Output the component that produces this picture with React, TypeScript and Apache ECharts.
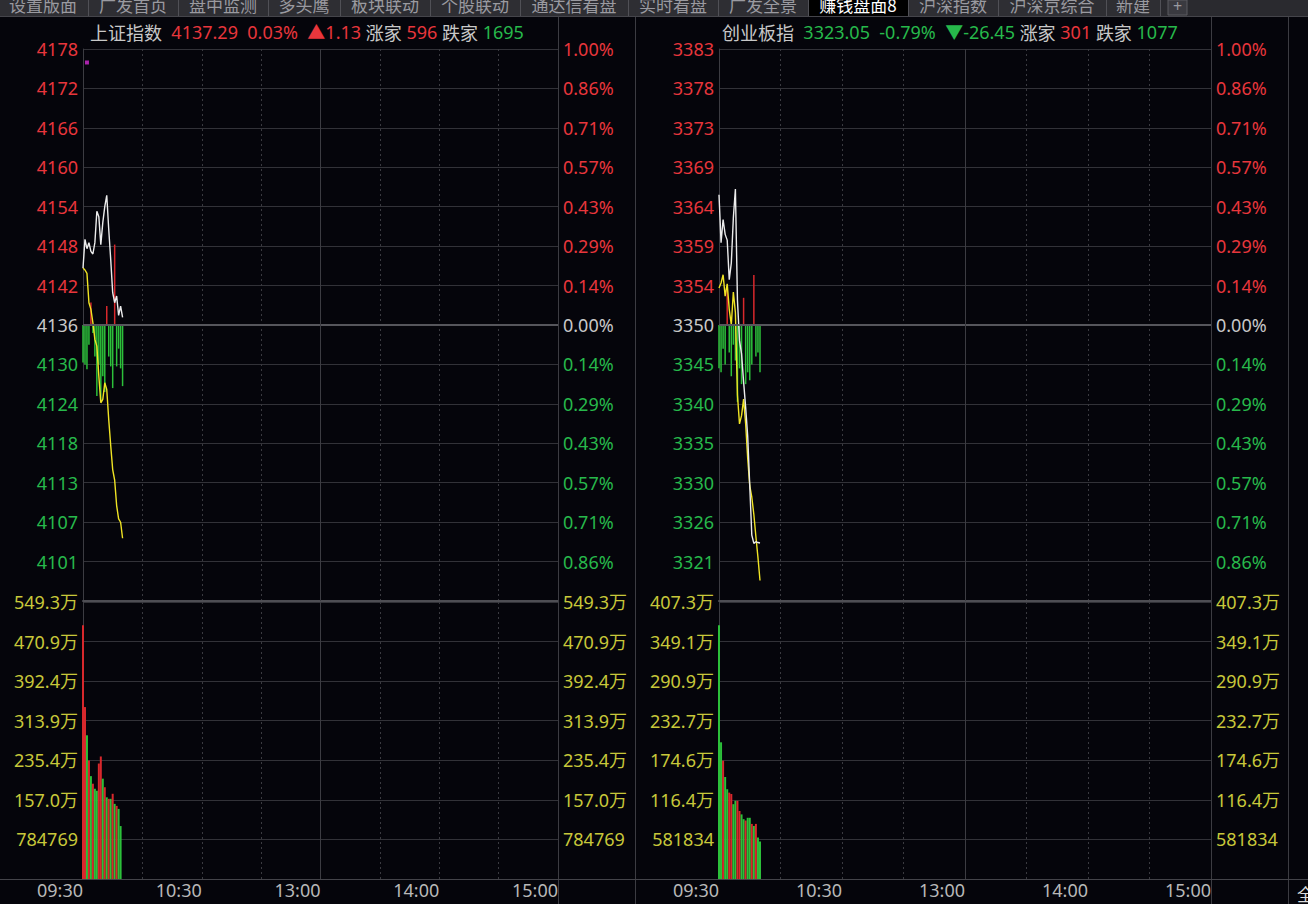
import React, { useEffect, useRef } from 'react';
import * as echarts from 'echarts';

// ---------------- data ----------------
const timeTickMinutes = [0, 60, 120, 180, 240];
const timeTickLabels = ['09:30', '10:30', '13:00', '14:00', '15:00'];

const pctLabels = ['1.00%', '0.86%', '0.71%', '0.57%', '0.43%', '0.29%', '0.14%', '0.00%', '0.14%', '0.29%', '0.43%', '0.57%', '0.71%', '0.86%', '1.00%'];

// 上证指数
const shPrevClose = 4136.16;
const shPriceLabels = ['4095', '4101', '4107', '4113', '4118', '4124', '4130', '4136', '4142', '4148', '4154', '4160', '4166', '4172', '4178'];
const shWhite = [4144.7, 4149.0, 4147.6, 4148.5, 4147.2, 4146.8, 4148.5, 4153.2, 4152.4, 4148.2, 4151.5, 4153.9, 4155.6, 4150.5, 4146.0, 4141.0, 4139.5, 4140.5, 4137.6, 4139.0, 4137.29];
const shYellow = [4144.7, 4144.4, 4143.9, 4139.5, 4138.5, 4136.5, 4134.0, 4133.0, 4128.5, 4124.5, 4125.0, 4127.5, 4126.5, 4122.0, 4118.1, 4114.5, 4112.9, 4109.1, 4107.1, 4106.6, 4104.2];
const shStrength = [-0.95, -1.0, -1.12, -0.5, 0.57, -0.2, -0.8, -1.8, -1.0, -1.9, -1.3, -1.7, 0.48, -0.8, -1.05, -1.6, 2.04, -1.05, -0.6, -1.1, -1.55];
const shVolume = [503, 341, 285, 235, 204, 189, 179, 175, 229, 243, 199, 182, 162, 159, 159, 169, 149, 145, 139, 105];
const shVolDir = [1, 1, -1, 1, -1, 1, -1, -1, 1, 1, -1, 1, -1, 1, -1, 1, -1, 1, -1, -1];
const shVolStep = 78.4769;
const shVolLabels = ['', '784769', '157.0万', '235.4万', '313.9万', '392.4万', '470.9万', '549.3万'];
const shMarker = [[2, 4175.5]];
const shHeader = { name: '上证指数', price: '4137.29', pct: '0.03%', chg: '▲1.13', up: '596', down: '1695' };

// 创业板指
const cyPrevClose = 3349.5;
const cyPriceLabels = ['3316', '3321', '3326', '3330', '3335', '3340', '3345', '3350', '3354', '3359', '3364', '3369', '3373', '3378', '3383'];
const cyWhite = [3365.3, 3359.5, 3362.3, 3360.5, 3359.8, 3355.0, 3357.0, 3362.5, 3366.0, 3352.5, 3347.6, 3346.0, 3342.6, 3339.5, 3336.0, 3330.0, 3324.0, 3323.0, 3323.2, 3323.1, 3323.05];
const cyYellow = [3354.0, 3354.6, 3355.6, 3353.0, 3354.5, 3351.4, 3349.5, 3353.5, 3351.0, 3341.0, 3337.5, 3338.5, 3340.5, 3337.5, 3333.3, 3330.0, 3328.6, 3326.5, 3323.8, 3321.3, 3318.5];
const cyStrength = [-1.1, -1.2, -0.6, -1.0, 0.9, -0.7, -1.3, -0.5, -0.9, -1.95, -1.1, -1.5, 0.69, -1.5, -1.2, -1.4, -1.0, 1.27, -0.8, -0.7, -1.2];
const cyVolume = [373, 201, 174, 150, 132, 127, 125, 110, 115, 115, 100, 95, 88, 86, 90, 90, 81, 78, 81, 61, 55];
const cyVolDir = [-1, -1, 1, -1, -1, 1, 1, -1, -1, 1, 1, -1, -1, 1, -1, -1, 1, -1, 1, -1, -1];
const cyVolStep = 58.1834;
const cyVolLabels = ['', '581834', '116.4万', '174.6万', '232.7万', '290.9万', '349.1万', '407.3万'];
const cyHeader = { name: '创业板指', price: '3323.05', pct: '-0.79%', chg: '▼-26.45', up: '301', down: '1077' };

const tabNames = ['设置版面', '广发首页', '盘中监测', '多头鹰', '板块联动', '个股联动', '通达信看盘', '实时看盘', '广发全景', '赚钱盘面8', '沪深指数', '沪深京综合', '新建'];
const activeTab = 9;

// ---------------- styles ----------------
const FONT = '"Noto Sans", "Noto Sans CJK SC", sans-serif';
const RED = '#e8363c';
const GREEN = '#27b94b';
const GRAY = '#c8c8c8';
const YEL = '#c8c83a';
const BAR_RED = '#d8282c';
const BAR_GREEN = '#2cc03a';
const GRID_LINE = '#323238';
const BORDER = '#3c3c42';
const BG = '#05050b';

function signColor(v: number) {
  return v > 0 ? RED : v < 0 ? GREEN : GRAY;
}

function timeFmt(v: any) {
  const i = timeTickMinutes.indexOf(Math.round(Number(v)));
  return i >= 0 ? timeTickLabels[i] : '';
}

type PanelCfg = {
  left: number;
  width: number;
  prevClose: number;
  priceLabels: string[];
  white: number[];
  yellow: number[];
  strength: number[];
  volume: number[];
  volDir: number[];
  volStep: number;
  volLabels: string[];
  marker?: number[][];
};

function buildPanel(idx: number, cfg: PanelCfg) {
  const g0 = idx * 2;
  const g1 = idx * 2 + 1;
  const yb = idx * 5;
  const grids = [
    { left: cfg.left, width: cfg.width, top: 49, height: 552 },
    { left: cfg.left, width: cfg.width, top: 602, height: 277 },
  ];
  const mkX = (gridIndex: number, showLabels: boolean) => ({
    type: 'value',
    gridIndex,
    min: 0,
    max: 240,
    interval: 30,
    axisLine: { show: true, onZero: false, lineStyle: { color: showLabels ? '#44444a' : '#4e4e54', width: showLabels ? 1 : 2 } },
    axisTick: { show: false },
    axisLabel: {
      show: showLabels,
      formatter: timeFmt,
      align: 'right',
      margin: 2,
      color: '#b8b8b8',
      fontSize: 18,
      fontFamily: FONT,
      showMinLabel: true,
      showMaxLabel: true,
    },
    splitLine: { show: true, lineStyle: { color: '#3a3a40', type: [2, 3], width: 1 } },
  });
  const xAxes = [mkX(g0, false), mkX(g1, true)];
  const labelBase = { fontSize: 18, fontFamily: FONT, margin: 5 };
  const yAxes = [
    {
      type: 'value', gridIndex: g0, position: 'left', min: -7, max: 7, interval: 1,
      axisLine: { show: true, lineStyle: { color: BORDER } }, axisTick: { show: false },
      axisLabel: { ...labelBase, showMinLabel: false, showMaxLabel: true, formatter: (v: any) => cfg.priceLabels[Math.round(Number(v)) + 7], color: (v: any) => signColor(Number(v)) },
      splitLine: { show: true, lineStyle: { color: GRID_LINE } },
    },
    {
      type: 'value', gridIndex: g0, position: 'right', min: -7, max: 7, interval: 1,
      axisLine: { show: true, lineStyle: { color: BORDER } }, axisTick: { show: false },
      axisLabel: { ...labelBase, showMinLabel: false, showMaxLabel: true, formatter: (v: any) => pctLabels[Math.round(Number(v)) + 7], color: (v: any) => signColor(Number(v)) },
      splitLine: { show: false },
    },
    { type: 'value', gridIndex: g0, show: false, min: cfg.prevClose * 0.99, max: cfg.prevClose * 1.01, splitLine: { show: false } },
    {
      type: 'value', gridIndex: g1, position: 'left', min: 0, max: cfg.volStep * 7, interval: cfg.volStep,
      axisLine: { show: true, lineStyle: { color: BORDER } }, axisTick: { show: false },
      axisLabel: { ...labelBase, showMinLabel: false, showMaxLabel: true, formatter: (v: any) => cfg.volLabels[Math.round(Number(v) / cfg.volStep)] || '', color: YEL },
      splitLine: { show: true, lineStyle: { color: GRID_LINE } },
    },
    {
      type: 'value', gridIndex: g1, position: 'right', min: 0, max: cfg.volStep * 7, interval: cfg.volStep,
      axisLine: { show: true, lineStyle: { color: BORDER } }, axisTick: { show: false },
      axisLabel: { ...labelBase, showMinLabel: false, showMaxLabel: true, formatter: (v: any) => cfg.volLabels[Math.round(Number(v) / cfg.volStep)] || '', color: YEL },
      splitLine: { show: false },
    },
  ];
  const series: any[] = [
    {
      type: 'bar', xAxisIndex: g0, yAxisIndex: yb, barWidth: 1.5, z: 1,
      data: cfg.strength.map((v, i) => ({ value: [i, v], itemStyle: { color: v > 0 ? BAR_RED : BAR_GREEN } })),
      markLine: {
        silent: true, symbol: ['none', 'none'], label: { show: false }, animation: false,
        data: [
          { yAxis: 0, lineStyle: { color: '#56565c', width: 2, type: 'solid' } },
          { xAxis: 120, lineStyle: { color: '#3c3c42', width: 1, type: 'solid' } },
        ],
      },
    },
    {
      type: 'line', xAxisIndex: g0, yAxisIndex: yb + 2, z: 3, symbol: 'none', showSymbol: false,
      data: cfg.yellow.map((v, i) => [i, v]), lineStyle: { color: '#f0e424', width: 1.4 },
    },
    {
      type: 'line', xAxisIndex: g0, yAxisIndex: yb + 2, z: 4, symbol: 'none', showSymbol: false,
      data: cfg.white.map((v, i) => [i, v]), lineStyle: { color: '#ececec', width: 1.4 },
    },
    {
      type: 'bar', xAxisIndex: g1, yAxisIndex: yb + 3, barWidth: 2, z: 2,
      data: cfg.volume.map((v, i) => ({ value: [i, v], itemStyle: { color: cfg.volDir[i] > 0 ? BAR_RED : BAR_GREEN } })),
      markLine: {
        silent: true, symbol: ['none', 'none'], label: { show: false }, animation: false,
        data: [{ xAxis: 120, lineStyle: { color: '#3c3c42', width: 1, type: 'solid' } }],
      },
    },
  ];
  if (cfg.marker) {
    series.push({
      type: 'scatter', xAxisIndex: g0, yAxisIndex: yb + 2, symbol: 'rect', symbolSize: 4, z: 5,
      itemStyle: { color: '#d42ad4' }, data: cfg.marker,
    });
  }
  return { grids, xAxes, yAxes, series };
}

function headerTitle(h: typeof shHeader, left: number, upColorKey: string) {
  const k = upColorKey;
  return {
    left, top: 23, padding: 0,
    text: `{n|${h.name}}  {${k}|${h.price}}  {${k}|${h.pct}}  {${k}|${h.chg}} {n|涨家} {r|${h.up}} {n|跌家} {g|${h.down}}`,
    textStyle: {
      fontSize: 18, fontFamily: FONT, color: GRAY, fontWeight: 'normal',
      rich: {
        n: { color: GRAY, fontSize: 18, fontFamily: '"Noto Sans CJK SC", sans-serif' },
        r: { color: RED, fontSize: 18, fontFamily: FONT },
        g: { color: GREEN, fontSize: 18, fontFamily: FONT },
      },
    },
  };
}

function tabGraphics() {
  const els: any[] = [];
  els.push({ type: 'rect', shape: { x: 0, y: 0, width: 1308, height: 17 }, style: { fill: '#2a2a2f' }, z: 100 });
  let x = -2;
  tabNames.forEach((name, i) => {
    let w = 18;
    for (const ch of name) w += /[0-9]/.test(ch) ? 10 : 18;
    const active = i === activeTab;
    els.push({ type: 'rect', shape: { x, y: 0, width: w, height: 16 }, style: { fill: active ? '#000' : '#2e2e33' }, z: 101 });
    els.push({ type: 'line', shape: { x1: x + w + 0.5, y1: 0, x2: x + w + 0.5, y2: 16 }, style: { stroke: '#505056', lineWidth: 1 }, z: 102 });
    els.push({
      type: 'text', x: x + w / 2, y: 4, z: 103,
      style: { text: name, fill: active ? '#ffffff' : '#9a9aa0', font: '17px "Noto Sans CJK SC", sans-serif', textAlign: 'center', textVerticalAlign: 'middle' },
    });
    x += w;
  });
  els.push({ type: 'rect', shape: { x: 1168, y: 0, width: 19, height: 15 }, style: { fill: '#3a3a40', stroke: '#5a5a60' }, z: 101 });
  els.push({ type: 'text', x: 1177.5, y: 6, z: 103, style: { text: '+', fill: '#9a9aa0', font: '16px "Noto Sans", sans-serif', textAlign: 'center', textVerticalAlign: 'middle' } });
  els.push({ type: 'line', shape: { x1: 0, y1: 16.5, x2: 1308, y2: 16.5 }, style: { stroke: '#45454b', lineWidth: 1 }, z: 100 });
  // panel separators
  [558.5, 635.5, 1211.5, 1288.5].forEach((sx) => {
    els.push({ type: 'line', shape: { x1: sx, y1: 17, x2: sx, y2: 904 }, style: { stroke: BORDER, lineWidth: 1 }, z: 50 });
  });
  els.push({ type: 'line', shape: { x1: 0, y1: 879.5, x2: 1308, y2: 879.5 }, style: { stroke: '#44444a', lineWidth: 1 }, z: 50 });
  els.push({ type: 'text', x: 1297, y: 893, z: 60, style: { text: '全', fill: '#dddddd', font: '17px "Noto Sans CJK SC", sans-serif', textVerticalAlign: 'middle' } });
  return els;
}

export default function App() {
  const ref = useRef<HTMLDivElement>(null);
  useEffect(() => {
    if (!ref.current) return;
    const chart = echarts.init(ref.current, undefined, { renderer: 'svg' });
    const p0 = buildPanel(0, {
      left: 83, width: 475, prevClose: shPrevClose, priceLabels: shPriceLabels, white: shWhite, yellow: shYellow,
      strength: shStrength, volume: shVolume, volDir: shVolDir, volStep: shVolStep, volLabels: shVolLabels, marker: shMarker,
    });
    const p1 = buildPanel(1, {
      left: 719, width: 492, prevClose: cyPrevClose, priceLabels: cyPriceLabels, white: cyWhite, yellow: cyYellow,
      strength: cyStrength, volume: cyVolume, volDir: cyVolDir, volStep: cyVolStep, volLabels: cyVolLabels,
    });
    chart.setOption({
      animation: false,
      backgroundColor: BG,
      title: [headerTitle(shHeader, 90, 'r'), headerTitle(cyHeader, 722, 'g')],
      grid: [...p0.grids, ...p1.grids],
      xAxis: [...p0.xAxes, ...p1.xAxes],
      yAxis: [...p0.yAxes, ...p1.yAxes],
      series: [...p0.series, ...p1.series],
      graphic: tabGraphics(),
    });
    return () => chart.dispose();
  }, []);
  return <div ref={ref} style={{ position: 'fixed', left: 0, top: 0, width: 1308, height: 904, background: BG }} />;
}
